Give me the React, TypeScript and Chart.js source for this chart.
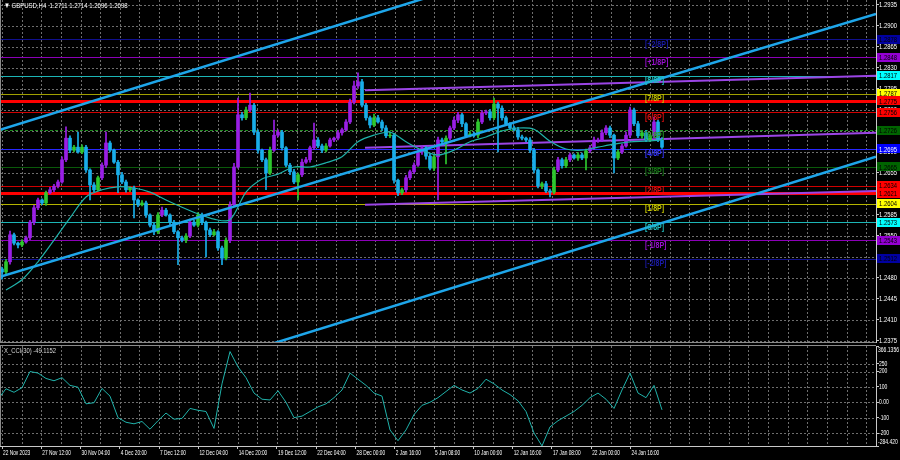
import React, { useEffect, useRef } from "react";
import { Chart, registerables } from "chart.js";
Chart.register(...registerables);

// ---------------- data ----------------
const title = "\u25BC GBPUSD,H4  1.2711 1.2714 1.2696 1.2698";
const cciTitle = "X_CCI(30) -49.1152";

const firstOpen = 1.2495;
const closes = [
  1.2490, 1.2507, 1.2552, 1.2538, 1.2535, 1.2540, 1.2547, 1.2573, 1.2597, 1.2610,
  1.2605, 1.2622, 1.2627, 1.2633, 1.2640, 1.2677, 1.2713, 1.2693, 1.2698, 1.2690,
  1.2698, 1.2660, 1.2635, 1.2627, 1.2647, 1.2668, 1.2705, 1.2693, 1.2673, 1.2652,
  1.2640, 1.2627, 1.2630, 1.2610, 1.2602, 1.2605, 1.2585, 1.2568, 1.2557, 1.2585,
  1.2593, 1.2585, 1.2573, 1.2557, 1.2547, 1.2543, 1.2550, 1.2573, 1.2568, 1.2585,
  1.2573, 1.2560, 1.2552, 1.2557, 1.2530, 1.2513, 1.2543, 1.2602, 1.2665, 1.2752,
  1.2747, 1.2760, 1.2768, 1.2723, 1.2693, 1.2677, 1.2655, 1.2693, 1.2718, 1.2723,
  1.2697, 1.2668, 1.2657, 1.2640, 1.2652, 1.2673, 1.2677, 1.2697, 1.2710, 1.2700,
  1.2693, 1.2700, 1.2710, 1.2713, 1.2722, 1.2727, 1.2740, 1.2773, 1.2800, 1.2807,
  1.2768, 1.2747, 1.2735, 1.2747, 1.2740, 1.2730, 1.2717, 1.2718, 1.2643, 1.2622,
  1.2627, 1.2647, 1.2657, 1.2668, 1.2690, 1.2697, 1.2683, 1.2663, 1.2682, 1.2710,
  1.2707, 1.2713, 1.2730, 1.2743, 1.2752, 1.2737, 1.2717, 1.2720, 1.2718, 1.2740,
  1.2755, 1.2757, 1.2747, 1.2770, 1.2763, 1.2747, 1.2737, 1.2730, 1.2727, 1.2715,
  1.2713, 1.2710, 1.2693, 1.2660, 1.2633, 1.2637, 1.2625, 1.2623, 1.2660, 1.2677,
  1.2667, 1.2677, 1.2685, 1.2680, 1.2685, 1.2680, 1.2692, 1.2697, 1.2710, 1.2710,
  1.2722, 1.2730, 1.2718, 1.2680, 1.2690, 1.2700, 1.2718, 1.2760, 1.2737, 1.2717,
  1.2722, 1.2710, 1.2717, 1.2740, 1.2711, 1.2698,
];
// upper / lower shadows in pips
const wickUp = [
  3, 4, 6, 3, 2, 4, 3, 3, 4, 3,
  2, 3, 4, 3, 3, 5, 19, 4, 3, 25,
  4, 3, 2, 4, 3, 4, 18, 3, 2, 3,
  4, 3, 2, 3, 2, 4, 3, 2, 3, 4,
  5, 3, 2, 3, 2, 3, 4, 5, 3, 4,
  3, 2, 3, 4, 2, 3, 4, 5, 6, 28,
  4, 5, 20, 3, 4, 2, 3, 5, 25, 4,
  3, 2, 3, 4, 3, 5, 4, 3, 28, 4,
  3, 4, 3, 2, 4, 3, 4, 5, 8, 15,
  4, 3, 3, 6, 4, 3, 4, 5, 3, 2,
  3, 4, 3, 4, 5, 3, 2, 4, 3, 5,
  3, 4, 3, 5, 4, 3, 2, 4, 3, 5,
  4, 3, 4, 10, 3, 4, 3, 2, 3, 4,
  3, 2, 4, 3, 2, 3, 4, 3, 5, 4,
  3, 4, 3, 2, 4, 3, 3, 4, 5, 3,
  5, 4, 3, 2, 4, 3, 5, 5, 3, 4,
  3, 4, 3, 8, 3, 3,
];
const wickDn = [
  12, 3, 4, 3, 5, 3, 2, 3, 4, 3,
  3, 4, 2, 3, 3, 2, 3, 4, 3, 2,
  3, 4, 25, 3, 2, 3, 4, 3, 2, 30,
  3, 4, 3, 30, 3, 2, 4, 3, 5, 3,
  3, 2, 4, 3, 45, 3, 4, 3, 2, 3,
  4, 45, 3, 2, 4, 11, 3, 4, 3, 2,
  4, 3, 3, 4, 5, 3, 28, 3, 2, 3,
  4, 3, 5, 3, 30, 3, 2, 4, 3, 3,
  4, 3, 2, 3, 3, 4, 2, 3, 3, 4,
  3, 4, 5, 3, 2, 4, 3, 3, 5, 5,
  3, 4, 3, 3, 2, 4, 5, 3, 4, 72,
  3, 37, 3, 3, 4, 5, 3, 2, 3, 4,
  3, 3, 4, 3, 73, 4, 3, 3, 2, 4,
  3, 3, 4, 5, 3, 4, 3, 8, 3, 3,
  4, 3, 3, 2, 4, 3, 20, 3, 3, 4,
  3, 3, 4, 25, 3, 3, 2, 4, 3, 3,
  4, 3, 3, 3, 4, 2,
];
// moving average, one value every 4 bars (ending on the last bar)
const maValues = [
  1.2460, 1.2477, 1.2507, 1.2543, 1.2580, 1.2615, 1.2627, 1.2632, 1.2630, 1.2623,
  1.2610, 1.2598, 1.2587, 1.2578, 1.2577, 1.2623, 1.2645, 1.2653, 1.2665, 1.2665,
  1.2672, 1.2682, 1.2707, 1.2718, 1.2723, 1.2707, 1.2693, 1.2685, 1.2693, 1.2707,
  1.2715, 1.2725, 1.2730, 1.2728, 1.2708, 1.2695, 1.2693, 1.2698, 1.2703, 1.2707,
  1.2708, 1.2710,
];
// CCI(30), one value every 2 bars (ending on the last bar)
const cciValues = [
  20, 88, 65, 95, 200, 190, 155, 140, 160, 110,
  98, -10, -3, 90, 40, -100, -130, -140, -125, -175,
  -120, -70, -110, -105, -40, -52, -60, -170, 120, 330,
  230, 160, 60, 20, 15, 75, 0, -100, -90, -60,
  -30, -10, 30, 80, 190, 150, 110, 60, 40, -180,
  -250, -180, -80, -20, 0, 30, 70, 110, 80, 60,
  90, 150, 120, 80, 50, 10, -60, -200, -284, -160,
  -120, -90, -60, -20, 30, 60, 20, -40, 80, 190,
  60, 30, 110, -49.1152,
];
const cciMax = 366.1356;
const cciMin = -284.42;
const cciTicks = [250, 200, 100, 0, -100, -200];

const timeLabels = [
  "22 Nov 2023", "27 Nov 12:00", "30 Nov 04:00", "4 Dec 20:00", "7 Dec 12:00",
  "12 Dec 04:00", "14 Dec 20:00", "19 Dec 12:00", "22 Dec 04:00", "28 Dec 00:00",
  "2 Jan 16:00", "5 Jan 08:00", "10 Jan 00:00", "12 Jan 16:00", "17 Jan 08:00",
  "22 Jan 00:00", "24 Jan 16:00",
];
const priceTicks = [
  1.2935, 1.29, 1.2865, 1.283, 1.2795, 1.276, 1.2725, 1.269, 1.2655, 1.262,
  1.2585, 1.255, 1.2515, 1.248, 1.2445, 1.241, 1.2375,
];
const priceMax = 1.29433;
const priceMin = 1.23733;

// Murrey levels and two thick support/resistance lines
const levelPrices = [1.2878, 1.2848, 1.2817, 1.2787, 1.2775, 1.2756, 1.2726, 1.2695, 1.2665, 1.2634, 1.2621, 1.2604, 1.2573, 1.2543, 1.2512];
const levelNames = ["[+2/8P]", "[+1/8P]", "[8/8P]", "[7/8P]", "", "[6/8P]", "[5/8P]", "[4/8P]", "[3/8P]", "[2/8P]", "", "[1/8P]", "[0/8P]", "[-1/8P]", "[-2/8P]"];

// regression channel (bar index, price)
const channelX = [-0.5, 218.5];
const channelUpper = [1.2727, 1.3179];
const channelMid = [1.2482, 1.2920];
const channelLower = [1.2230, 1.2682];
// sloped purple lines
const slopeX = [90.75, 218.5];
const slopeTop = [1.2793, 1.2817];
const slopeMid = [1.2697, 1.2722];
const slopeLow = [1.2602, 1.2625];

// ---------------- styles ----------------
const FONT = '"Liberation Sans", "DejaVu Sans", Arial, sans-serif';
const GRID = "#6e6e6e";
const AXIS = "#c8c8c8";
const PURPLE = "#9a1fe6";
const BLUE = "#19aeea";
const GREEN = "#2ec82e";
const CHANNEL = "#1ea6ea";
const MA = "#20b2aa";
const SLOPE = "#9b45e6";
const X_MIN = -0.5;
const X_MAX = 218.5;
const GRID_STEP = 4.91;
const TIME_STEP = 9.82;
const LEVEL_LABEL_X = 160.75;
const levelColors = ["#10108f", "#8b00b8", "#1cb5b5", "#a0a000", "#ff0000", "#d00000", "#1e8c1e", "#2828ff", "#0a5a0a", "#d00000", "#ff0000", "#b4b400", "#1cb5b5", "#8b00b8", "#10108f"];
const labelColors = ["#1a1aa8", "#9a10d0", "#22c0c0", "#c0c000", "#ff0000", "#e01010", "#2aa02a", "#3434ff", "#1a781a", "#e01010", "#ff0000", "#c8c800", "#22c0c0", "#9a10d0", "#1a1aa8"];
const levelWidths = [1, 1, 1, 1, 3, 1, 1, 1, 1, 1, 3, 1, 1, 1, 1];
const levelDash = [0, 0, 0, 0, 0, 0, 1, 0, 0, 0, 0, 0, 0, 0, 0];
const boxColors = ["#0000a0", "#9400d3", "#00ffff", "#ffff00", "#ff0000", "#ff0000", "#006400", "#0000ff", "#006400", "#ff0000", "#ff0000", "#ffff00", "#00ffff", "#9400d3", "#0000a0"];
const boxText = ["#000000", "#000000", "#000000", "#000000", "#000000", "#000000", "#000000", "#ffffff", "#000000", "#000000", "#000000", "#000000", "#000000", "#000000", "#000000"];

const PIP = 0.0001;

function text(
  ctx: CanvasRenderingContext2D, s: string, x: number, y: number, size: number, color: string,
  sx = 0.78, align: CanvasTextAlign = "left", bold = false, baseline: CanvasTextBaseline = "middle"
) {
  ctx.save();
  ctx.font = `${bold ? "bold " : ""}${size}px ${FONT}`;
  ctx.fillStyle = color;
  ctx.textAlign = align;
  ctx.textBaseline = baseline;
  ctx.translate(x, y);
  ctx.scale(sx, 1);
  ctx.fillText(s, 0, 0);
  ctx.restore();
}

function hline(ctx: CanvasRenderingContext2D, x0: number, x1: number, y: number) {
  ctx.beginPath();
  ctx.moveTo(x0, y);
  ctx.lineTo(x1, y);
  ctx.stroke();
}
function vline(ctx: CanvasRenderingContext2D, x: number, y0: number, y1: number) {
  ctx.beginPath();
  ctx.moveTo(x, y0);
  ctx.lineTo(x, y1);
  ctx.stroke();
}

function drawVerticalGrid(chart: any) {
  const { ctx, chartArea: a, scales } = chart;
  const x = scales.x;
  for (let v = 0; ; v += GRID_STEP) {
    const px = Math.round(x.getPixelForValue(v)) + 0.5;
    if (px > a.right - 1) break;
    vline(ctx, px, a.top, a.bottom);
  }
}

const mainPlugin = {
  id: "mtMain",
  beforeDatasetsDraw(chart: any) {
    const { ctx, chartArea: a, scales } = chart;
    const y = scales.y;
    ctx.save();
    ctx.beginPath();
    ctx.rect(a.left, a.top, a.right - a.left, a.bottom - a.top);
    ctx.clip();
    ctx.strokeStyle = GRID;
    ctx.lineWidth = 1;
    ctx.setLineDash([2, 2]);
    for (const t of priceTicks) {
      hline(ctx, a.left, a.right, Math.round(y.getPixelForValue(t)) + 0.5);
    }
    drawVerticalGrid(chart);
    levelPrices.forEach((p, i) => {
      ctx.strokeStyle = levelColors[i];
      ctx.lineWidth = levelWidths[i];
      ctx.setLineDash(levelDash[i] ? [3, 2] : []);
      const py = Math.round(y.getPixelForValue(p)) + (levelWidths[i] % 2 ? 0.5 : 0);
      hline(ctx, a.left, a.right, py);
    });
    ctx.restore();
  },
  afterDatasetsDraw(chart: any) {
    const { ctx, scales } = chart;
    const lx = scales.x.getPixelForValue(LEVEL_LABEL_X);
    levelPrices.forEach((p, i) => {
      if (!levelNames[i]) return;
      const py = scales.y.getPixelForValue(p);
      text(ctx, levelNames[i], lx, py + 5, 9, labelColors[i], 0.78, "left", true);
    });
  },
  afterDraw(chart: any) {
    const { ctx, chartArea: a, scales } = chart;
    const y = scales.y;
    ctx.save();
    ctx.strokeStyle = "#8a8a8a";
    ctx.lineWidth = 1;
    hline(ctx, 0, a.right, a.bottom + 0.5);
    vline(ctx, 0.5, a.top, a.bottom);
    ctx.restore();
    for (const t of priceTicks) {
      text(ctx, t.toFixed(4), a.right + 3, y.getPixelForValue(t), 7.5, "#ffffff", 0.78);
    }
    levelPrices.forEach((p, i) => {
      const py = y.getPixelForValue(p);
      ctx.fillStyle = boxColors[i];
      ctx.fillRect(a.right + 1, Math.round(py - 4.5), 24, 9);
      text(ctx, p.toFixed(4), a.right + 3, py + 0.5, 7.5, boxText[i], 0.78);
    });
    text(ctx, title, 4, 6, 8, "#ffffff", 0.75);
  },
};

const cciPlugin = {
  id: "mtCci",
  beforeDatasetsDraw(chart: any) {
    const { ctx, chartArea: a, scales } = chart;
    ctx.save();
    ctx.strokeStyle = GRID;
    ctx.lineWidth = 1;
    ctx.setLineDash([2, 2]);
    for (const t of cciTicks) {
      hline(ctx, a.left, a.right, Math.round(scales.y.getPixelForValue(t)) + 0.5);
    }
    drawVerticalGrid(chart);
    ctx.restore();
  },
  afterDraw(chart: any) {
    const { ctx, chartArea: a, scales } = chart;
    ctx.save();
    ctx.strokeStyle = "#8a8a8a";
    ctx.lineWidth = 1;
    hline(ctx, 0, a.right, a.top - 0.5);
    vline(ctx, 0.5, a.top, a.bottom);
    ctx.restore();
    text(ctx, cciMax.toFixed(4), a.right + 2, a.top + 1, 7, "#ffffff", 0.72, "left", false, "top");
    for (const t of cciTicks) {
      text(ctx, t === 0 ? "0.00" : String(t), a.right + 3, scales.y.getPixelForValue(t), 7, "#ffffff", 0.72);
    }
    text(ctx, cciMin.toFixed(3), a.right + 2, a.bottom, 7, "#ffffff", 0.72, "left", false, "bottom");
    timeLabels.forEach((s, k) => {
      text(ctx, s, scales.x.getPixelForValue(k * TIME_STEP) + 1, a.bottom + 7, 7.5, "#ffffff", 0.64);
    });
    text(ctx, cciTitle, 4, a.top + 5, 7.5, "#d8d8d8", 0.78);
  },
};

function buildMain(): any {
  const opens = closes.map((c, i) => (i === 0 ? firstOpen : closes[i - 1]));
  const highs = closes.map((c, i) => Math.max(opens[i], c) + wickUp[i] * PIP);
  const lows = closes.map((c, i) => Math.min(opens[i], c) - wickDn[i] * PIP);
  const colors = closes.map((c, i) => {
    if (c < opens[i]) return BLUE;
    if (i > 0 && closes[i - 1] < opens[i - 1]) return GREEN;
    return PURPLE;
  });
  const n = closes.length;
  const lineDs = (xs: number[], ys: number[], color: string, width: number, order: number) => ({
    type: "line",
    data: xs.map((x, i) => ({ x, y: ys[i] })),
    borderColor: color,
    borderWidth: width,
    pointRadius: 0,
    tension: 0,
    order,
  });
  return {
    type: "line",
    data: {
      datasets: [
        lineDs(channelX, channelUpper, CHANNEL, 2.5, 0),
        lineDs(channelX, channelMid, CHANNEL, 2.5, 0),
        lineDs(channelX, channelLower, CHANNEL, 2.5, 0),
        {
          type: "line",
          data: maValues.map((v, k) => ({ x: n - 1 - 4 * (maValues.length - 1 - k), y: v })),
          borderColor: MA,
          borderWidth: 1.2,
          pointRadius: 0,
          tension: 0.3,
          order: 1,
        },
        {
          type: "bar",
          data: closes.map((c, i) => ({ x: i, y: [opens[i], c] })),
          backgroundColor: colors,
          barThickness: 3,
          grouped: false,
          borderWidth: 0,
          order: 2,
        },
        {
          type: "bar",
          data: closes.map((c, i) => ({ x: i, y: [lows[i], highs[i]] })),
          backgroundColor: colors,
          barThickness: 1,
          grouped: false,
          borderWidth: 0,
          order: 3,
        },
        lineDs(slopeX, slopeTop, SLOPE, 2, 4),
        lineDs(slopeX, slopeMid, SLOPE, 2, 4),
        lineDs(slopeX, slopeLow, SLOPE, 2, 4),
      ],
    },
    options: {
      animation: false,
      responsive: false,
      maintainAspectRatio: false,
      events: [],
      layout: { padding: { left: 0, right: 0, top: 0, bottom: 1 } },
      plugins: { legend: { display: false }, tooltip: { enabled: false } },
      scales: {
        x: { type: "linear", min: X_MIN, max: X_MAX, display: false, offset: false },
        y: {
          type: "linear",
          position: "right",
          min: priceMin,
          max: priceMax,
          afterBuildTicks: (s: any) => {
            s.ticks = priceTicks.map((v) => ({ value: v }));
          },
          afterFit: (s: any) => {
            s.width = 24;
          },
          ticks: { display: false },
          grid: { drawOnChartArea: false, tickLength: 3, color: AXIS },
          border: { display: true, color: AXIS },
        },
      },
    },
    plugins: [mainPlugin],
  };
}

function buildCci(): any {
  const n = closes.length;
  return {
    type: "line",
    data: {
      datasets: [
        {
          data: cciValues.map((v, k) => ({ x: n - 1 - 2 * (cciValues.length - 1 - k), y: v })),
          borderColor: MA,
          borderWidth: 1,
          pointRadius: 0,
          tension: 0,
        },
      ],
    },
    options: {
      animation: false,
      responsive: false,
      maintainAspectRatio: false,
      events: [],
      layout: { padding: { left: 0, right: 0, top: 3, bottom: 0 } },
      plugins: { legend: { display: false }, tooltip: { enabled: false } },
      scales: {
        x: {
          type: "linear",
          position: "bottom",
          min: X_MIN,
          max: X_MAX,
          offset: false,
          afterBuildTicks: (s: any) => {
            s.ticks = timeLabels.map((_, k) => ({ value: k * TIME_STEP }));
          },
          afterFit: (s: any) => {
            s.height = 14;
          },
          ticks: { display: false },
          grid: { drawOnChartArea: false, tickLength: 3, color: AXIS },
          border: { display: true, color: AXIS },
        },
        y: {
          type: "linear",
          position: "right",
          min: cciMin,
          max: cciMax,
          afterBuildTicks: (s: any) => {
            s.ticks = [cciMax, ...cciTicks, cciMin].map((v) => ({ value: v }));
          },
          afterFit: (s: any) => {
            s.width = 24;
          },
          ticks: { display: false },
          grid: { drawOnChartArea: false, tickLength: 3, color: AXIS },
          border: { display: true, color: AXIS },
        },
      },
    },
    plugins: [cciPlugin],
  };
}

export default function App() {
  const mainRef = useRef<HTMLCanvasElement>(null);
  const cciRef = useRef<HTMLCanvasElement>(null);
  useEffect(() => {
    const c1 = new Chart(mainRef.current as HTMLCanvasElement, buildMain());
    const c2 = new Chart(cciRef.current as HTMLCanvasElement, buildCci());
    return () => {
      c1.destroy();
      c2.destroy();
    };
  }, []);
  return (
    <div style={{ position: "fixed", left: 0, top: 0, width: 900, height: 460, background: "#000", overflow: "hidden" }}>
      <canvas ref={mainRef} width={900} height={343} style={{ position: "absolute", left: 0, top: 0, width: 900, height: 343 }} />
      <canvas ref={cciRef} width={900} height={117} style={{ position: "absolute", left: 0, top: 343, width: 900, height: 117 }} />
    </div>
  );
}
